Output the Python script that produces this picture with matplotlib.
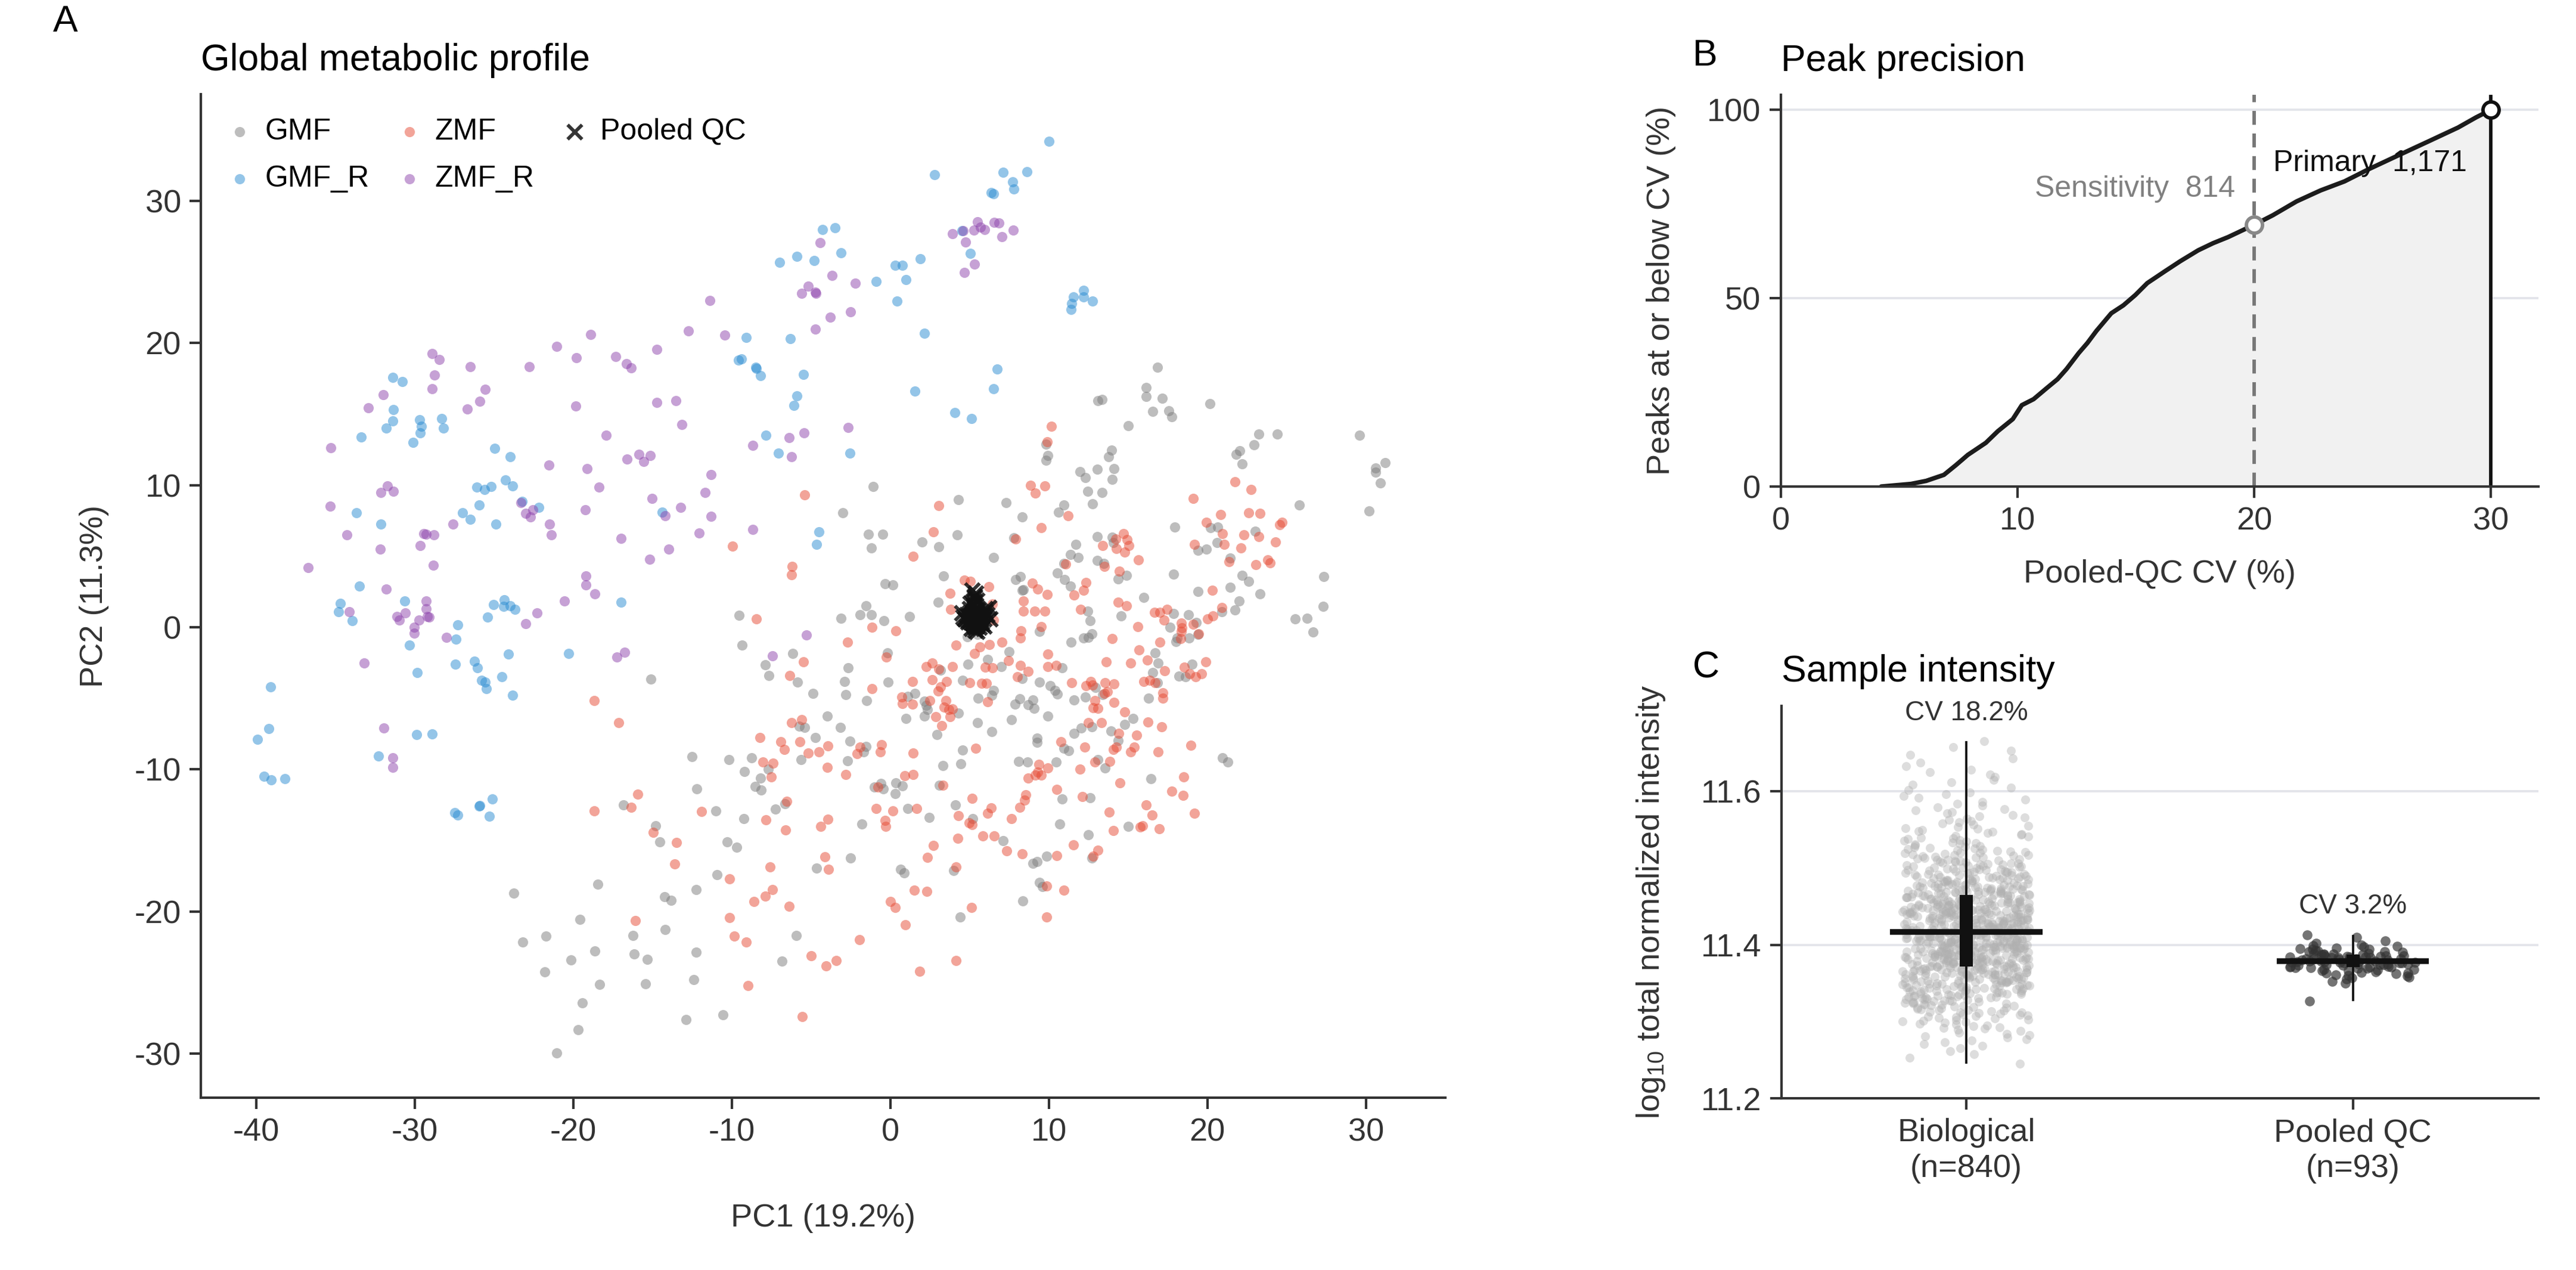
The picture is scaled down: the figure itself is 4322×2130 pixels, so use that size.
import numpy as np
import matplotlib.pyplot as plt

plt.rcParams['font.family'] = ['Liberation Sans', 'DejaVu Sans']
plt.rcParams['axes.unicode_minus'] = False
plt.rcParams['mathtext.fontset'] = 'custom'
plt.rcParams['mathtext.rm'] = 'Liberation Sans'

# ---- panel A: PCA scores (PC1, PC2) ----
gmf = [(16.85,18.3),(16.15,16.85),(16.15,16.25),(17.15,16.1),(13.1,15.95),(13.35,16.05),(20.15,15.75),(16.55,15.2),
       (17.55,15.25),(17.75,14.8),(15.0,14.2),(23.25,13.6),(24.4,13.6),(29.6,13.5),(22.95,12.85),(22.05,12.4),(21.8,12.15),
       (22.2,11.5),(31.2,11.6),(30.6,11.2),(30.6,10.9),(30.9,10.15),(30.2,8.2),(25.8,8.6),(13.95,12.45),(13.75,12.0),
       (14.1,11.15),(13.05,11.1),(11.95,10.95),(12.3,10.55),(14.0,10.4),(12.45,9.55),(13.35,9.5),(12.75,8.7),(9.8,12.9),
       (9.95,12.1),(9.8,11.75),(-1.1,9.9),(-3.0,8.05),(4.3,9.0),(7.3,8.75),(10.95,8.6),(10.6,8.1),(8.3,7.75),(-1.4,6.55),
       (-0.5,6.55),(-1.2,5.6),(2.0,6.0),(3.05,5.65),(4.2,6.5),(7.8,6.3),(6.5,4.9),(17.95,7.05),(13.05,6.4),(14.0,6.35),
       (14.05,5.95),(11.7,5.85),(11.35,5.1),(11.85,4.9),(10.95,4.5),(13.05,4.7),(13.45,4.5),(10.55,3.8),(11.0,3.35),
       (11.35,2.9),(14.35,3.4),(14.9,3.65),(17.85,3.75),(20.2,7.0),(20.65,7.05),(23.0,6.75),(20.6,5.95),(19.4,5.4),
       (19.95,5.5),(21.45,4.85),(22.2,3.65),(22.6,3.25),(21.45,2.8),(19.4,2.5),(23.3,2.35),(27.35,3.55),(3.35,3.6),
       (-0.35,3.05),(0.15,3.0),(7.9,3.35),(8.2,3.55),(8.3,2.6),(8.4,2.65),
       (-9.55,0.85),(-9.35,-1.25),(-6.15,-1.85),(-7.9,-2.65),(-7.65,-3.4),(-5.85,-3.85),(-4.9,-4.65),(-15.1,-3.65),
       (-5.75,-6.95),(-5.4,-7.05),(-4.75,-7.75),(-12.5,-9.1),(-10.2,-9.3),(-8.75,-9.2),(-5.65,-9.3),(-9.2,-10.15),
       (-7.7,-10.0),(-8.2,-10.6),(-8.55,-11.2),(-8.15,-11.45),(-12.2,-11.35),(-16.85,-12.5),(-11.0,-12.9),(-7.25,-12.8),
       (-6.65,-12.4),(-9.25,-13.45),(-14.8,-13.95),(-14.55,-15.1),(-10.3,-15.1),(-9.7,-15.5),(-4.65,-16.95),(-10.95,-17.4),
       (-18.45,-18.1),(-23.75,-18.7),(-12.25,-18.45),(-14.25,-18.95),(-13.85,-19.2),(-19.6,-20.55),(-14.2,-21.25),
       (-16.25,-21.7),(-21.75,-21.75),(-23.2,-22.15),(-5.95,-21.7),(-18.65,-22.8),(-16.15,-23.0),(-15.35,-23.35),
       (-20.15,-23.4),(-12.25,-22.85),(-6.85,-23.5),(-21.8,-24.25),(-12.4,-24.8),(-18.35,-25.15),(-15.45,-25.1),
       (-19.45,-26.45),(-12.9,-27.6),(-10.55,-27.25),(-19.7,-28.3),(-21.05,-29.95),
       (-1.55,1.5),(-3.1,0.65),(-1.9,0.9),(-1.2,0.9),(-0.4,0.45),(1.2,0.75),(3.0,1.75),(16.0,2.1),(22.0,1.85),(21.75,1.2),
       (20.9,1.1),(25.55,0.6),(26.3,0.65),(27.3,1.45),(26.65,-0.35),(12.45,1.15),(12.6,0.45),(14.55,0.8),(12.7,-0.45),
       (12.2,-0.75),(12.5,-0.7),(11.4,-1.05),(9.4,-0.3),(17.85,0.95),(18.8,0.9),(19.3,0.35),(17.65,0.0),(18.1,-0.75),
       (18.0,-1.0),(18.85,-0.75),(19.4,-0.5),(4.85,-0.65),(5.5,-0.5),(-0.2,-1.8),(7.5,-1.7),(6.15,-2.25),(7.0,-2.75),
       (4.9,-2.6),(-2.65,-2.85),(-2.9,-3.8),(-2.8,-4.75),(-0.15,-3.85),(-1.5,-5.15),(3.15,-3.0),(8.3,-3.6),(9.4,-3.85),
       (10.1,-4.1),(10.4,-4.45),(10.55,-4.7),(10.85,-2.85),(4.55,-3.75),(6.5,-4.45),(6.4,-4.8),(1.55,-4.65),(1.1,-4.85),
       (2.15,-5.2),(2.25,-5.5),(2.35,-5.8),(2.15,-6.25),(4.3,-6.05),(5.55,-5.0),(8.15,-5.05),(7.85,-5.4),(9.0,-5.1),
       (8.7,-5.45),(9.05,-5.7),(11.6,-5.1),(12.3,-4.9),(12.95,-4.25),(13.4,-4.75),(16.85,-3.9),(16.55,-3.2),(16.9,-2.5),
       (16.7,-1.8),(18.2,-3.45),(18.6,-3.5),(19.05,-2.6),(16.3,-5.0),(15.3,-6.4),(14.8,-6.85),(13.9,-7.3),(12.7,-7.0),
       (12.05,-7.1),(11.6,-7.45),(14.35,-7.95),(10.95,-8.5),(11.25,-8.7),(9.95,-6.25),(9.25,-7.8),(9.25,-8.1),(7.65,-6.5),
       (5.5,-6.7),(6.4,-7.35),(2.95,-7.55),(1.0,-6.4),(-4.0,-6.25),(-3.15,-7.05),(-2.55,-8.0),(-1.55,-8.4),(-1.7,-8.75),
       (-2.7,-9.4),(3.3,-9.75),(4.55,-8.65),(4.45,-9.6),(8.1,-9.45),(8.65,-9.5),(10.45,-9.5),(13.1,-9.3),(13.55,-9.9),
       (20.95,-9.2),(21.3,-9.5),(16.45,-10.65),(-1.0,-11.25),(-0.6,-11.0),(-0.45,-11.35),(0.35,-10.95),(0.75,-11.15),
       (0.3,-11.7),(3.1,-11.1),(1.1,-12.75),(2.45,-13.4),(4.1,-12.5),(5.2,-13.45),(-1.8,-13.85),(10.85,-12.1),(12.6,-12.0),
       (10.7,-13.85),(12.5,-14.6),(15.0,-14.0),(7.1,-15.0),(9.0,-16.6),(9.25,-16.5),(9.85,-16.1),(12.7,-16.25),
       (-2.5,-16.25),(0.65,-17.05),(0.85,-17.3),(4.0,-17.1),(9.4,-17.95),(9.6,-18.25),(8.35,-19.25),(4.4,-20.4)]

zmf = [(-5.4,9.3),(-9.95,5.7),(-6.2,4.3),(-6.25,3.7),
       (10.15,14.15),(9.9,13.05),(8.85,10.0),(9.75,9.95),(9.15,9.45),(3.05,8.55),(11.2,7.85),(9.5,7.0),(2.7,6.7),(1.45,5.0),
       (7.9,6.2),(19.1,9.05),(21.75,10.25),(22.75,9.7),(20.85,7.95),(22.6,8.05),(23.3,8.0),(19.95,7.4),(24.7,7.4),
       (24.55,7.2),(20.95,6.6),(22.3,6.5),(23.25,6.4),(24.3,6.0),(19.2,5.85),(21.05,5.85),(22.1,5.6),(21.35,4.6),
       (23.05,4.4),(23.8,4.75),(23.95,4.55),(20.3,2.6),(14.7,6.6),(14.95,6.15),(14.2,6.2),(13.4,5.75),(15.05,5.75),
       (14.25,5.55),(14.8,5.3),(15.65,4.75),(13.5,4.3),(11.05,4.45),(14.45,3.95),(12.35,3.15),(12.2,2.6),(11.6,2.25),
       (9.9,2.3),(9.3,2.7),(8.95,3.1),(4.65,3.3),(5.05,3.25),(3.75,2.4),(6.2,2.85),
       (-8.45,0.6),(-5.5,-2.45),(-6.35,-3.4),(-18.7,-5.15),(-17.15,-6.7),(-6.25,-6.7),(-5.6,-6.5),(-8.25,-7.75),
       (-6.9,-8.05),(-5.7,-8.05),(-6.7,-8.6),(-5.2,-8.85),(-4.5,-8.75),(-8.05,-9.5),(-7.4,-9.55),(-7.5,-10.55),
       (-15.95,-11.75),(-18.7,-12.9),(-16.35,-12.65),(-11.9,-12.95),(-6.55,-12.25),(-7.85,-13.55),(-6.6,-14.25),
       (-4.4,-14.0),(-14.95,-14.45),(-13.5,-15.15),(-13.6,-16.65),(-7.6,-16.85),(-4.15,-16.15),(-10.15,-17.7),
       (-7.45,-18.45),(-7.9,-18.9),(-8.6,-19.3),(-6.4,-19.65),(-16.1,-20.65),(-10.15,-20.45),(-9.85,-21.75),
       (-9.1,-22.15),(-5.0,-23.1),(-9.0,-25.2),(-5.55,-27.4),
       (3.8,1.25),(6.45,1.65),(6.5,0.5),(8.4,1.85),(8.4,1.15),(9.1,1.15),(9.75,1.15),(12.0,1.25),(14.35,1.75),(14.9,1.5),
       (16.65,1.05),(17.0,1.05),(17.45,1.25),(17.25,0.5),(18.35,0.3),(18.4,-0.05),(18.35,-0.3),(19.1,0.2),(19.45,-0.45),
       (20.0,0.6),(20.35,0.8),(20.9,1.4),(15.6,0.05),(14.0,-0.8),(17.0,-1.05),(18.3,-0.8),(15.7,-1.6),(16.2,-2.3),
       (15.15,-2.5),(13.6,-2.45),(17.3,-3.05),(18.55,-2.8),(18.9,-3.25),(19.25,-3.5),(19.65,-3.25),(19.9,-2.45),
       (16.0,-3.8),(16.35,-3.75),(16.7,-3.9),(17.2,-4.6),(17.2,-5.0),(-1.15,0.0),(0.35,-0.25),(-2.7,-1.05),(-0.25,-2.1),
       (4.15,-1.25),(5.65,-1.4),(5.3,-1.85),(6.25,-1.2),(7.05,-1.05),(8.25,-0.25),(8.2,-0.75),(9.5,0.05),(9.95,-1.9),
       (2.25,-2.75),(2.65,-2.5),(3.9,-2.75),(3.05,-2.95),(6.0,-2.8),(6.45,-2.85),(7.45,-2.35),(8.2,-2.7),(8.7,-3.1),
       (9.95,-2.75),(10.45,-2.7),(1.4,-3.8),(2.65,-3.7),(3.55,-3.8),(3.15,-4.2),(3.0,-4.5),(5.0,-3.9),(5.75,-3.95),
       (6.05,-3.95),(8.0,-3.5),(-1.15,-4.3),(0.7,-4.9),(0.75,-5.35),(1.4,-5.4),(2.5,-5.15),(3.5,-5.15),(3.4,-5.6),
       (3.7,-5.8),(3.9,-5.75),(3.75,-6.3),(2.85,-6.3),(3.25,-6.9),(6.15,-5.25),(11.45,-3.9),(12.35,-4.1),(12.65,-3.8),
       (12.75,-4.05),(13.55,-3.9),(14.1,-4.0),(13.5,-4.65),(13.7,-4.55),(12.9,-5.15),(12.8,-5.65),(13.1,-5.7),(14.1,-5.3),
       (14.8,-5.95),(12.5,-6.7),(13.3,-6.7),(16.25,-6.65),(17.1,-7.0),(15.55,-7.6),(14.4,-7.45),(14.25,-8.45),
       (14.05,-8.6),(15.4,-8.45),(15.15,-8.75),(16.9,-8.75),(18.95,-8.3),(10.75,-8.05),(12.25,-8.45),(12.9,-9.5),
       (13.85,-9.45),(11.95,-10.0),(9.95,-9.9),(9.35,-9.65),(9.3,-10.2),(9.15,-10.4),(9.5,-10.4),(8.7,-10.6),(5.4,-8.5),
       (1.45,-8.85),(-0.55,-8.25),(-0.65,-8.75),(-1.9,-8.45),(-2.1,-8.9),(-3.95,-8.35),(-4.0,-9.85),(-2.8,-10.35),
       (0.9,-10.45),(1.45,-10.35),(-0.8,-11.25),(3.3,-11.1),(8.55,-11.8),(8.45,-12.15),(8.15,-12.65),(10.5,-11.4),
       (12.1,-11.9),(14.5,-10.95),(18.5,-10.55),(17.75,-11.55),(18.45,-11.85),(19.2,-13.1),(16.15,-12.5),(16.5,-13.2),
       (16.95,-14.2),(15.75,-14.05),(15.9,-13.95),(13.8,-13.0),(14.05,-14.3),(11.55,-15.3),(13.1,-15.7),(12.8,-16.1),
       (10.5,-16.05),(8.3,-15.95),(7.35,-15.75),(5.85,-14.7),(6.55,-14.7),(4.25,-14.85),(5.15,-12.05),(6.35,-12.7),
       (6.15,-13.1),(7.65,-13.45),(4.3,-13.25),(4.95,-13.75),(5.15,-13.9),(1.65,-12.75),(0.15,-12.9),(-0.9,-12.75),
       (-0.35,-13.6),(-0.3,-14.0),(-3.95,-13.5),(2.7,-15.35),(2.35,-16.2),(-3.9,-17.05),(4.15,-16.85),(9.85,-18.2),
       (10.95,-18.5),(1.5,-18.5),(2.3,-18.6),(0.0,-19.3),(0.3,-19.7),(5.1,-19.7),(9.85,-20.4),(0.95,-20.95),
       (-1.95,-22.0),(-3.4,-23.45),(-4.05,-23.85),(1.85,-24.2),(4.15,-23.45)]

gmf_r = [(-4.3,28.0),(-7.0,25.7),(-5.9,26.1),(-4.8,25.8),(-9.1,20.4),(-6.3,20.3),(-9.6,18.8),(-9.4,18.9),(-8.5,18.3),
         (-8.45,18.2),(-8.2,17.7),(-5.5,17.8),(-5.9,16.3),(-6.1,15.6),(-7.85,13.5),(-7.05,12.25),(-4.5,6.7),(-4.65,5.85),
         (-14.4,8.1),(-31.4,17.6),(-30.8,17.3),(-31.35,15.3),(-31.4,14.5),(-31.8,14.0),(-33.4,13.4),(-29.7,14.6),
         (-29.6,14.15),(-29.65,13.7),(-30.1,13.0),(-28.3,14.7),(-28.2,14.0),(-24.95,12.6),(-24.0,12.0),(-26.1,9.85),
         (-25.6,9.7),(-25.2,9.9),(-24.3,10.35),(-23.85,9.95),(-25.95,8.6),(-27.0,8.05),(-26.5,7.6),(-24.9,7.25),
         (-23.25,8.85),(-22.2,8.45),(-33.7,8.05),(-32.15,7.25),(-33.5,2.9),
         (-3.5,28.1),(10.0,34.2),(2.8,31.85),(7.1,32.0),(8.6,32.05),(7.7,31.35),(7.8,30.85),(6.35,30.6),(6.5,30.5),
         (-3.1,26.35),(-0.9,24.35),(0.3,25.45),(0.75,25.45),(1.9,25.95),(1.0,24.45),(0.4,22.95),(5.05,26.3),(4.5,27.9),
         (2.15,20.7),(11.55,23.25),(12.2,23.7),(12.2,23.25),(11.45,22.8),(11.4,22.35),(12.75,22.95),(6.75,18.15),
         (6.5,16.8),(1.55,16.6),(4.05,15.1),(5.1,14.7),(-2.55,12.25),
         (-34.7,1.7),(-34.8,1.1),(-33.95,0.45),(-30.65,1.85),(-24.35,1.95),(-25.05,1.6),(-24.4,1.45),(-24.0,1.5),
         (-23.7,1.25),(-25.4,0.7),(-27.3,0.15),(-27.4,-0.85),(-30.35,-1.25),(-17.0,1.75),(-20.3,-1.85),(-24.1,-1.9),
         (-27.45,-2.6),(-26.25,-2.4),(-26.05,-2.85),(-29.85,-3.2),(-25.8,-3.75),(-25.55,-3.85),(-25.5,-4.3),(-24.5,-3.5),
         (-23.85,-4.8),(-39.1,-4.2),(-39.2,-7.15),(-39.95,-7.9),(-29.9,-7.55),(-28.9,-7.5),(-32.3,-9.05),(-39.5,-10.5),
         (-39.05,-10.75),(-38.2,-10.65),(-25.1,-12.1),(-25.95,-12.6),(-25.9,-12.55),(-27.5,-13.05),(-27.3,-13.2),
         (-25.3,-13.3)]

zmf_r = [(-4.45,27.05),(-5.2,24.0),(-5.6,23.5),(-4.75,23.6),(-4.7,23.5),(-11.4,23.0),(-4.75,21.0),(-12.75,20.85),
         (-10.45,20.55),(-18.9,20.6),(-21.05,19.75),(-19.8,18.95),(-17.35,19.05),(-16.65,18.55),(-16.35,18.25),
         (-14.75,19.55),(-22.8,18.35),(-28.9,19.25),(-28.45,18.85),(-28.75,17.75),(-28.9,16.8),(-26.5,18.35),
         (-25.55,16.75),(-25.9,15.9),(-26.7,15.35),(-32.0,16.35),(-32.95,15.45),(-35.3,12.65),(-19.85,15.55),
         (-14.75,15.8),(-13.55,15.95),(-13.15,14.25),(-17.95,13.5),(-8.7,12.8),(-6.4,13.35),(-5.45,13.7),(-6.25,12.0),
         (-16.6,11.85),(-15.85,12.15),(-15.15,12.1),(-15.55,11.65),(-21.55,11.4),(-19.15,11.15),(-11.3,10.75),
         (-18.4,9.85),(-11.7,9.5),(-15.05,9.05),(-13.25,8.45),(-14.2,7.85),(-11.3,7.8),(-19.25,8.25),(-31.75,9.95),
         (-32.15,9.5),(-31.35,9.55),(-35.35,8.5),(-23.3,8.75),(-23.0,8.0),(-22.55,8.25),(-22.7,7.75),(-21.5,7.25),
         (-21.4,6.5),(-27.6,7.25),(-29.45,6.6),(-29.3,6.55),(-28.8,6.5),(-34.3,6.5),(-32.2,5.5),(-29.65,5.75),(-8.7,6.9),
         (-12.05,6.65),(-17.0,6.25),(-14.0,5.5),(-15.2,4.8),(-19.2,3.6),(-19.2,3.0),(-18.65,2.35),(-36.75,4.2),
         (-28.85,4.35),(-31.8,2.7),
         (3.9,27.7),(4.6,27.9),(5.25,27.95),(5.5,28.55),(5.7,28.15),(5.95,28.0),(6.55,28.5),(6.85,28.45),(7.75,27.95),
         (7.05,27.5),(4.75,27.1),(5.3,25.55),(4.65,24.95),(-3.7,24.75),(-2.2,24.2),(-2.5,22.2),(-3.8,21.8),(-2.65,14.05),
         (-29.3,1.85),(-20.55,1.85),(-34.15,1.1),(-30.6,1.0),(-31.15,0.75),(-31.0,0.5),(-29.3,1.3),(-29.75,0.5),
         (-29.2,0.75),(-29.1,0.7),(-30.05,0.0),(-30.05,-0.4),(-28.0,-0.7),(-22.3,1.0),(-23.0,0.25),(-33.2,-2.5),
         (-17.25,-2.1),(-16.75,-1.75),(-5.3,-0.55),(-7.45,-2.0),(-31.95,-7.1),(-31.4,-9.2),(-31.4,-9.85)]

qc_pc1 = [5.1,5.4,5.6,5.2,5.5,5.3,4.9,5.8,5.0,5.7,5.35,5.45,5.15,5.25,5.55,5.65,4.8,6.0,5.3,5.4,
          5.2,5.5,5.1,5.6,5.3,5.45,5.05,5.75,4.7,6.1,5.35,5.25,5.5,5.15,5.4,5.6,5.0,5.8,5.3,5.2,
          5.5,5.4,4.6,6.2,5.1,5.7,5.3,5.45,5.35,5.55,5.25,5.0,5.9,4.9,5.65,5.4,5.3,5.2,5.6,5.15,
          5.5,5.35,4.5,6.3,5.05,5.45,5.3,5.7,5.25,5.4,5.6,5.1,5.5,5.2,5.8,5.0,5.35,5.45,5.3,5.55,
          4.7,6.0,5.25,5.4,5.15,5.6,5.3,5.5,5.2,5.45,5.35,4.9,5.9]
qc_pc2 = [0.6,0.4,0.8,1.0,0.2,0.7,0.5,0.9,1.3,0.3,0.6,0.1,0.8,1.5,0.4,0.7,0.9,1.1,2.1,0.5,
          0.3,1.2,0.6,0.0,0.8,0.5,1.7,0.4,0.6,0.9,-0.2,1.0,0.7,0.3,2.4,0.6,0.8,0.2,1.1,0.5,
          0.4,0.9,0.7,1.4,-0.1,0.6,0.3,1.9,0.8,0.5,0.2,1.0,0.6,0.4,0.7,1.2,0.1,0.9,0.5,2.6,
          0.3,0.8,1.0,0.6,0.4,-0.3,0.7,0.5,1.6,0.2,0.9,0.6,0.3,1.1,0.8,0.5,0.0,0.7,2.2,0.4,
          0.6,1.3,0.2,0.9,0.5,0.7,1.8,0.3,0.6,1.0,0.4,0.8,0.1]

# ---- panel B: cumulative share of peaks vs pooled-QC CV ----
cv_grid = [4.24,5.5,6.14,6.89,7.4,7.9,8.66,9.17,9.8,10.18,10.68,11.19,11.69,12.07,12.58,12.95,13.33,13.96,14.47,
           14.97,15.48,16.24,16.87,17.63,18.26,18.89,20.0,20.78,21.79,22.8,23.81,24.82,26.08,27.35,28.61,29.37,30.0]
pct_below = [0.0,0.7,1.5,3.1,5.7,8.4,11.6,14.7,17.9,21.6,23.2,25.9,28.5,31.2,35.4,38.1,41.3,46.0,48.1,50.8,54.0,
             57.2,59.8,62.7,64.6,66.2,69.5,72.0,75.7,78.6,81.0,84.2,87.9,91.6,95.3,98.0,100.0]
cv_cutoffs = [20, 30]
peaks_kept = [814, 1171]

# ---- panel C: log10 total intensity per sample (biological as binned counts) ----
bio_bins = [11.24,11.25,11.26,11.27,11.28,11.29,11.30,11.31,11.32,11.33,11.34,11.35,11.36,11.37,11.38,11.39,
            11.40,11.41,11.42,11.43,11.44,11.45,11.46,11.47,11.48,11.49,11.50,11.51,11.52,11.53,11.54,11.55,
            11.56,11.57,11.58,11.59,11.60,11.61,11.62,11.63,11.64,11.65,11.66]
bio_counts = [1,2,3,5,6,9,12,16,20,25,30,34,40,44,46,47,48,48,47,46,44,40,36,32,27,23,20,16,13,10,8,7,
              6,5,4,4,3,3,3,2,2,2,1]
qc_intensity = [11.378,11.381,11.372,11.385,11.369,11.390,11.375,11.383,11.366,11.392,
                11.379,11.374,11.387,11.361,11.396,11.377,11.382,11.370,11.388,11.364,
                11.380,11.376,11.384,11.358,11.399,11.373,11.386,11.368,11.391,11.379,
                11.355,11.402,11.375,11.381,11.371,11.389,11.363,11.394,11.377,11.383,
                11.367,11.385,11.352,11.405,11.374,11.380,11.370,11.387,11.360,11.397,
                11.378,11.382,11.369,11.376,11.393,11.365,11.384,11.372,11.389,11.357,
                11.400,11.376,11.381,11.373,11.386,11.362,11.395,11.379,11.371,11.410,
                11.350,11.384,11.375,11.388,11.366,11.391,11.378,11.380,11.368,11.385,
                11.359,11.398,11.374,11.382,11.327,11.413,11.377,11.371,11.387,11.363,
                11.394,11.379,11.383]
sample_groups = ['Biological\n(n=840)', 'Pooled QC\n(n=93)']
cv_text = ['CV 18.2%', 'CV 3.2%']

ink = '#333333'


def style(ax):
    for s in ['top', 'right']:
        ax.spines[s].set_visible(False)
    for s in ['left', 'bottom']:
        ax.spines[s].set_linewidth(1.0)
        ax.spines[s].set_color(ink)
    ax.tick_params(labelsize=13, colors=ink, length=4.5, width=1.0)


def strip_offsets(n, seed):
    # deterministic hash jitter for the strip plot
    j = np.arange(n) + seed
    return ((np.sin(j * 12.9898) * 43758.5453) % 1.0) - 0.5


fig = plt.figure(figsize=(4322 / 300, 2130 / 300), dpi=300)

# ================= A =================
ax = fig.add_axes([0.078, 0.1357, 0.483, 0.790])
style(ax)
pal = {'GMF': '#7d7d7d', 'GMF_R': '#2b8cd2', 'ZMF': '#e64b35', 'ZMF_R': '#8e44ad'}
data = {'GMF': gmf, 'GMF_R': gmf_r, 'ZMF': zmf, 'ZMF_R': zmf_r}
hs = []
for name in ['GMF', 'GMF_R', 'ZMF', 'ZMF_R']:
    xy = np.array(data[name])
    hs.append(ax.scatter(xy[:, 0], xy[:, 1], s=17, c=pal[name], alpha=0.5, lw=0, label=name))
hs.append(ax.scatter(qc_pc1, qc_pc2, marker='x', s=34, c='#111111', lw=1.4, alpha=0.85, label='Pooled QC'))
ax.set_xlim(-43.5, 35)
ax.set_ylim(-33.1, 37.5)
ax.set_xticks(range(-40, 31, 10))
ax.set_yticks(range(-30, 31, 10))
ax.set_xlabel('PC1 (19.2%)', fontsize=13, color=ink)
ax.set_ylabel('PC2 (11.3%)', fontsize=13, color=ink)
ax.xaxis.set_label_coords(0.5, -0.105)
ax.yaxis.set_label_coords(-0.074, 0.5)
ax.set_title('Global metabolic profile', loc='left', fontsize=15, pad=9.6)
ax.legend(handles=hs, ncol=3, loc='upper left', bbox_to_anchor=(0.0, 1.0), frameon=False, fontsize=12,
          handlelength=1.0, handletextpad=0.35, columnspacing=0.85, borderaxespad=0.4, labelspacing=0.65)

# ================= B =================
bx = fig.add_axes([0.6913, 0.6169, 0.2941, 0.3085])
style(bx)
bx.grid(axis='y', color='#e3e4ea', lw=0.9)
bx.set_axisbelow(True)
bx.fill_between(cv_grid, 0, pct_below, color='#f1f1f1', lw=0)
bx.plot(cv_grid, pct_below, color='#1c1c1c', lw=1.8, solid_capstyle='round')
sens_pct = peaks_kept[0] / peaks_kept[1] * 100
bx.axvline(cv_cutoffs[0], color='#777777', lw=1.4, ls=(0, (4, 2.5)))
bx.axvline(cv_cutoffs[1], color='#111111', lw=1.4)
bx.plot(cv_cutoffs[0], sens_pct, 'o', ms=6.5, mfc='white', mec='#888888', mew=1.4, zorder=5)
bx.plot(cv_cutoffs[1], 100, 'o', ms=6.5, mfc='white', mec='#111111', mew=1.4, zorder=5, clip_on=False)
bx.text(cv_cutoffs[0] - 0.8, 78.9, f'Sensitivity  {peaks_kept[0]:,}', color='#808080', fontsize=12,
        ha='right', va='center')
bx.text(cv_cutoffs[0] + 0.8, 85.8, f'Primary  {peaks_kept[1]:,}', color='#111111', fontsize=12,
        ha='left', va='center')
bx.set_xlim(0, 32)
bx.set_ylim(0, 104)
bx.set_xticks([0, 10, 20, 30])
bx.set_yticks([0, 50, 100])
bx.set_xlabel('Pooled-QC CV (%)', fontsize=13, color=ink)
bx.set_ylabel('Peaks at or below CV (%)', fontsize=13, color=ink)
bx.xaxis.set_label_coords(0.5, -0.185)
bx.yaxis.set_label_coords(-0.138, 0.5)
bx.set_title('Peak precision', loc='left', fontsize=15, pad=9.6)

# ================= C =================
cx = fig.add_axes([0.6916, 0.1352, 0.2938, 0.3089])
style(cx)
cx.grid(axis='y', color='#e3e4ea', lw=0.9)
cx.set_axisbelow(True)
bio = np.concatenate([b + 0.01 * (np.arange(c) + 0.5) / c for b, c in zip(bio_bins, bio_counts)])
qc = np.array(qc_intensity)
for pos, vals, col, a, s, seed in [(0, bio, '#b0b0b0', 0.42, 13, 1), (1, qc, '#333333', 0.68, 16, 977)]:
    jit = strip_offsets(vals.size, seed) * 0.33
    cx.scatter(pos + jit, vals, s=s, c=col, alpha=a, lw=0, zorder=2)
    q1, med, q3 = np.percentile(vals, [25, 50, 75])
    cx.vlines(pos, vals.min(), vals.max(), color='#111111', lw=0.9, zorder=3)
    cx.vlines(pos, q1, q3, color='#111111', lw=5.3, zorder=3)
    cx.hlines(med, pos - 0.197, pos + 0.197, color='#111111', lw=2.3, zorder=3)
cx.text(0, 11.702, cv_text[0], ha='center', va='center', fontsize=11, color=ink)
cx.text(1, 11.45, cv_text[1], ha='center', va='center', fontsize=11, color=ink)
cx.set_xlim(-0.478, 1.48)
cx.set_ylim(11.2, 11.711)
cx.set_xticks([0, 1])
cx.set_xticklabels(sample_groups, linespacing=1.25)
cx.set_yticks([11.2, 11.4, 11.6])
cx.set_yticklabels(['11.2', '11.4', '11.6'])
cx.set_ylabel(r'log$_{10}$ total normalized intensity', fontsize=13, color=ink)
cx.yaxis.set_label_coords(-0.151, 0.5)
cx.set_title('Sample intensity', loc='left', fontsize=15, pad=9.8)

# panel letters
fig.text(0.0206, 0.9967, 'A', fontsize=15, va='top', ha='left')
fig.text(0.6571, 0.970, 'B', fontsize=15, va='top', ha='left')
fig.text(0.6571, 0.4878, 'C', fontsize=15, va='top', ha='left')

fig.savefig('out.png', dpi=300)
